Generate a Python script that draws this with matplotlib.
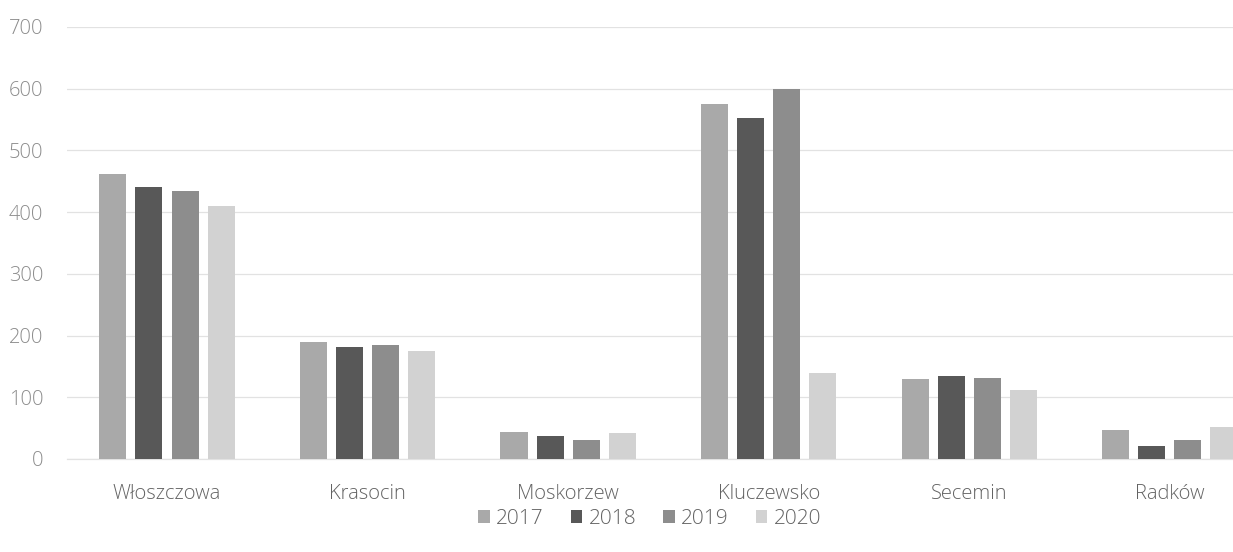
import numpy as np
import matplotlib
matplotlib.use("Agg")
import matplotlib.pyplot as plt

# data
categories = ["Włoszczowa", "Krasocin", "Moskorzew", "Kluczewsko", "Secemin", "Radków"]
years = ["2017", "2018", "2019", "2020"]
values_2017 = [461, 190, 43, 576, 129, 47]
values_2018 = [440, 182, 37, 552, 134, 21]
values_2019 = [435, 185, 30, 599, 132, 31]
values_2020 = [410, 175, 42, 139, 111, 52]
y_ticks = [0, 100, 200, 300, 400, 500, 600, 700]

colors = ["#a9a9a9", "#585858", "#8d8d8d", "#d2d2d2"]

plt.rcParams['font.family'] = ['Open Sans', 'DejaVu Sans']
plt.rcParams['font.weight'] = 'light'


def draw_chart():
    fig = plt.figure(figsize=(12.33, 5.52), dpi=100)
    # the plot area runs past the right edge, like in the reference
    ax = fig.add_axes([0.0541, 0.1685, 0.976, 0.7826])

    series = [values_2017, values_2018, values_2019, values_2020]
    x = np.arange(len(categories))
    step = 0.18
    width = 0.135
    for i, (vals, year) in enumerate(zip(series, years)):
        offset = (i - 1.5) * step
        ax.bar(x + offset, vals, width=width, color=colors[i], label=year, zorder=3)

    ax.set_xlim(-0.5, len(categories) - 0.5)
    ax.set_ylim(0, 700)
    ax.set_yticks(y_ticks)
    ax.set_xticks(x)
    ax.set_xticklabels(categories)

    ax.grid(axis='y', color='#e2e2e2', linewidth=0.9, zorder=0)
    for side in ['top', 'right', 'left']:
        ax.spines[side].set_visible(False)
    ax.spines['bottom'].set_color('#e2e2e2')
    ax.spines['bottom'].set_linewidth(0.9)

    ax.tick_params(axis='y', length=0, pad=17, labelsize=14.5, labelcolor='#8c8c8c')
    ax.tick_params(axis='x', length=0, pad=18, labelsize=14.5, labelcolor='#636363')

    fig.legend(loc='center', bbox_to_anchor=(0.527, 0.06), ncol=4, frameon=False,
               fontsize=15, labelcolor='#636363', handlelength=0.55, handleheight=0.55,
               handletextpad=0.3, columnspacing=1.3)

    fig.savefig("out.png", dpi=100)


if __name__ == "__main__":
    draw_chart()
